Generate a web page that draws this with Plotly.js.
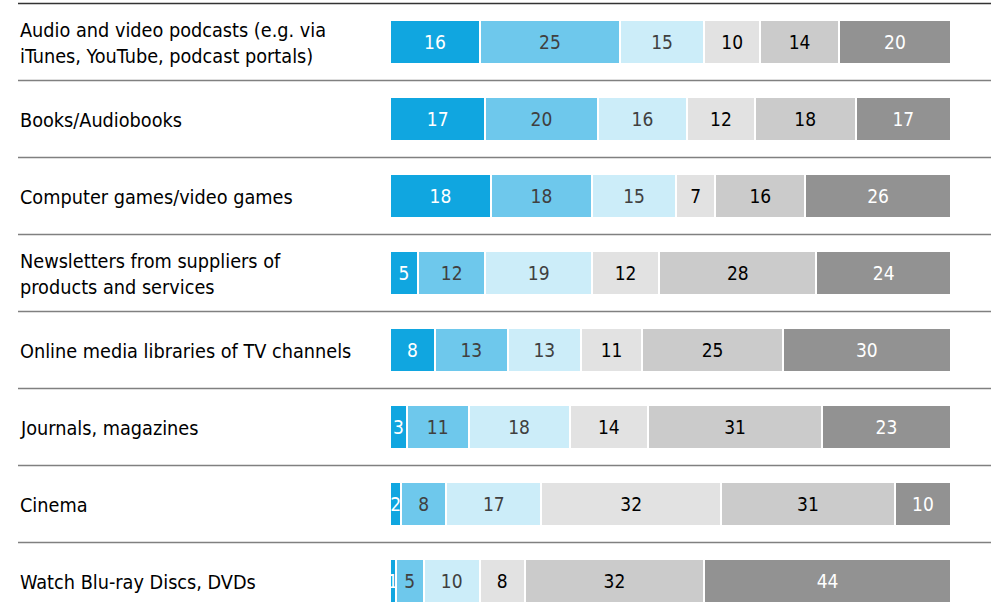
<!DOCTYPE html>
<html>
<head>
<meta charset="utf-8">
<script src="https://cdn.plot.ly/plotly-3.0.1.min.js"></script>
<style>html,body{margin:0;padding:0;background:#fff;}#chart{width:991px;height:615px;}</style>
</head>
<body>
<div id="chart"></div>
<script>
const categories = [
  "Audio and video podcasts (e.g. via<br>iTunes, YouTube, podcast portals)",
  "Books/Audiobooks",
  "Computer games/video games",
  "Newsletters from suppliers of<br>products and services",
  "Online media libraries of TV channels",
  "Journals, magazines",
  "Cinema",
  "Watch Blu-ray Discs, DVDs"
];
const s1 = [16, 17, 18, 5, 8, 3, 2, 1];
const s2 = [25, 20, 18, 12, 13, 11, 8, 5];
const s3 = [15, 16, 15, 19, 13, 18, 17, 10];
const s4 = [10, 12, 7, 12, 11, 14, 32, 8];
const s5 = [14, 18, 16, 28, 25, 31, 31, 32];
const s6 = [20, 17, 26, 24, 30, 23, 10, 44];

const seriesList = [s1, s2, s3, s4, s5, s6];
const colors = ["#10a6e0", "#6ec8ec", "#ccedf9", "#e2e2e2", "#cbcbcb", "#929292"];
const textColors = ["#ffffff", "#404040", "#404040", "#000000", "#000000", "#ffffff"];
const FONT = "DejaVu Sans Condensed, DejaVu Sans, sans-serif";

const traces = seriesList.map((vals, i) => ({
  type: "bar",
  orientation: "h",
  y: categories,
  x: vals,
  text: vals.map(String),
  textposition: "inside",
  insidetextanchor: "middle",
  textangle: 0,
  insidetextfont: {family: FONT, size: 19, color: textColors[i]},
  marker: {color: colors[i], line: {color: "#ffffff", width: 2}},
  width: 0.56,
  hoverinfo: "skip",
  showlegend: false
}));

const xLeft = (18 - 390) / 561;
const xRight = (991 - 390) / 561;

const shapes = [];
shapes.push({type: "line", xref: "paper", yref: "y", x0: xLeft, x1: xRight, y0: -0.5, y1: -0.5,
  line: {color: "#333333", width: 1.5}});
for (let i = 0; i < categories.length - 1; i++) {
  shapes.push({type: "line", xref: "paper", yref: "y", x0: xLeft, x1: xRight, y0: i + 0.5, y1: i + 0.5,
    line: {color: "#808080", width: 1.5}});
}

const annotations = categories.map((c, i) => ({
  xref: "paper", yref: "y", x: xLeft, y: i, text: c, yshift: -2,
  xanchor: "left", yanchor: "middle", align: "left", showarrow: false,
  font: {family: FONT, size: 19.7, color: "#000000"}
}));

const layout = {
  width: 991, height: 615,
  margin: {l: 390, r: 40, t: 0, b: 0, pad: 0},
  barmode: "stack",
  bargap: 0,
  paper_bgcolor: "#ffffff",
  plot_bgcolor: "#ffffff",
  uniformtext: {minsize: 19, mode: "show"},
  xaxis: {range: [0, 100], visible: false, fixedrange: true},
  yaxis: {type: "category", range: [7.442, -0.545], showticklabels: false, showgrid: false,
          zeroline: false, showline: false, ticks: "", fixedrange: true},
  shapes: shapes,
  annotations: annotations,
  font: {family: FONT}
};

Plotly.newPlot("chart", traces, layout, {displayModeBar: false, staticPlot: true});
</script>
</body>
</html>
